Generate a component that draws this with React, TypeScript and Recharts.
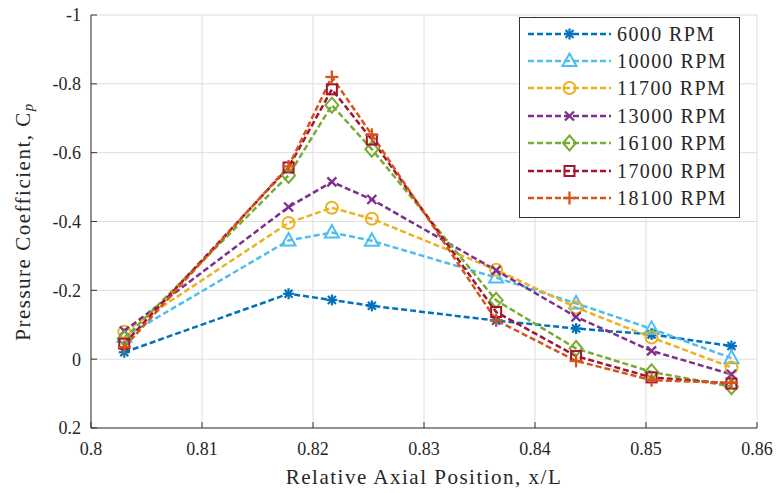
import React from "react"
import { LineChart, Line, XAxis, YAxis, CartesianGrid } from "recharts"

// axial tap positions (x/L)
const xPos = [0.803, 0.8178, 0.8217, 0.8253, 0.8365, 0.8437, 0.8505, 0.8577]

// Cp readings per shaft speed
const rpm6000 = [-0.02, -0.19, -0.172, -0.155, -0.112, -0.089, -0.072, -0.038]
const rpm10000 = [-0.065, -0.345, -0.368, -0.344, -0.237, -0.162, -0.088, -0.003]
const rpm11700 = [-0.08, -0.396, -0.44, -0.408, -0.26, -0.15, -0.063, 0.024]
const rpm13000 = [-0.082, -0.442, -0.515, -0.464, -0.258, -0.123, -0.024, 0.044]
const rpm16100 = [-0.06, -0.534, -0.738, -0.61, -0.171, -0.031, 0.037, 0.08]
const rpm17000 = [-0.045, -0.557, -0.784, -0.638, -0.137, -0.009, 0.053, 0.071]
const rpm18100 = [-0.035, -0.56, -0.82, -0.652, -0.113, 0.005, 0.061, 0.069]

const xTicks = [0.8, 0.81, 0.82, 0.83, 0.84, 0.85, 0.86]
const yTicks = [-1, -0.8, -0.6, -0.4, -0.2, 0, 0.2]

const FONT = "Liberation Serif, DejaVu Serif, serif"
const AXIS = "#333333"

type Shape = "asterisk" | "triangle" | "circle" | "cross" | "diamond" | "square" | "plus"

const series: { key: string; name: string; values: number[]; color: string; marker: Shape }[] = [
  { key: "s6000", name: "6000 RPM", values: rpm6000, color: "#0072BD", marker: "asterisk" },
  { key: "s10000", name: "10000 RPM", values: rpm10000, color: "#4DBEEE", marker: "triangle" },
  { key: "s11700", name: "11700 RPM", values: rpm11700, color: "#EDB120", marker: "circle" },
  { key: "s13000", name: "13000 RPM", values: rpm13000, color: "#7E2F8E", marker: "cross" },
  { key: "s16100", name: "16100 RPM", values: rpm16100, color: "#77AC30", marker: "diamond" },
  { key: "s17000", name: "17000 RPM", values: rpm17000, color: "#A2142F", marker: "square" },
  { key: "s18100", name: "18100 RPM", values: rpm18100, color: "#D95319", marker: "plus" },
]

const data = xPos.map((x, i) => {
  const row: Record<string, number> = { x }
  series.forEach((s) => {
    row[s.key] = s.values[i]
  })
  return row
})

const fmt = (v: number) => String(parseFloat(v.toFixed(2)))

function Marker({ cx, cy, shape, color }: { cx: number; cy: number; shape: Shape; color: string }) {
  const p = { stroke: color, strokeWidth: 2, fill: "none" }
  switch (shape) {
    case "asterisk":
      return (
        <g {...p} strokeWidth={2.2}>
          <line x1={cx - 5.5} y1={cy} x2={cx + 5.5} y2={cy} />
          <line x1={cx} y1={cy - 5.5} x2={cx} y2={cy + 5.5} />
          <line x1={cx - 4} y1={cy - 4} x2={cx + 4} y2={cy + 4} />
          <line x1={cx - 4} y1={cy + 4} x2={cx + 4} y2={cy - 4} />
        </g>
      )
    case "triangle":
      return <polygon {...p} points={`${cx},${cy - 7.5} ${cx - 7},${cy + 5} ${cx + 7},${cy + 5}`} />
    case "circle":
      return <circle {...p} cx={cx} cy={cy} r={6} />
    case "cross":
      return (
        <g {...p} strokeWidth={2.3}>
          <line x1={cx - 4.5} y1={cy - 4.5} x2={cx + 4.5} y2={cy + 4.5} />
          <line x1={cx - 4.5} y1={cy + 4.5} x2={cx + 4.5} y2={cy - 4.5} />
        </g>
      )
    case "diamond":
      return <polygon {...p} points={`${cx},${cy - 7.5} ${cx + 6.5},${cy} ${cx},${cy + 7.5} ${cx - 6.5},${cy}`} />
    case "square":
      return <rect {...p} x={cx - 5} y={cy - 5} width={10} height={10} />
    case "plus":
      return (
        <g {...p} strokeWidth={2.3}>
          <line x1={cx - 6.5} y1={cy} x2={cx + 6.5} y2={cy} />
          <line x1={cx} y1={cy - 6.5} x2={cx} y2={cy + 6.5} />
        </g>
      )
  }
  return null
}

const LegendBox = () => (
  <div
    style={{
      position: "absolute",
      left: 519,
      top: 17,
      width: 221,
      height: 201,
      boxSizing: "border-box",
      border: `1px solid ${AXIS}`,
      background: "#fff",
      paddingTop: 2,
      fontFamily: FONT,
    }}
  >
    {series.map((s) => (
      <div key={s.key} style={{ display: "flex", alignItems: "center", height: 27.4 }}>
        <svg width={92} height={20} style={{ display: "block" }}>
          <line x1={8} y1={10} x2={91} y2={10} stroke={s.color} strokeWidth={2.5} strokeDasharray="6 3" />
          <Marker cx={49.5} cy={10} shape={s.marker} color={s.color} />
        </svg>
        <span style={{ marginLeft: 5, fontSize: 20, letterSpacing: 1.4, color: "#262626", lineHeight: "20px" }}>
          {s.name}
        </span>
      </div>
    ))}
  </div>
)

const YLabel = (props: any) => {
  const vb = props.viewBox || {}
  const cx = 23
  const cy = (vb.y ?? 15) + (vb.height ?? 413) / 2
  return (
    <text
      x={cx}
      y={cy}
      transform={`rotate(-90, ${cx}, ${cy})`}
      textAnchor="middle"
      dominantBaseline="central"
      fill="#262626"
      fontFamily={FONT}
      fontSize={21}
      style={{ letterSpacing: 1.5 }}
    >
      Pressure Coefficient, C
      <tspan fontStyle="italic" fontSize={15} dy={5}>
        p
      </tspan>
    </text>
  )
}

const XLabel = (props: any) => {
  const vb = props.viewBox || {}
  const cx = (vb.x ?? 91) + (vb.width ?? 666) / 2
  const cy = (vb.y ?? 428) + 49
  return (
    <text
      x={cx}
      y={cy}
      textAnchor="middle"
      dominantBaseline="central"
      fill="#262626"
      fontFamily={FONT}
      fontSize={21}
      style={{ letterSpacing: 1.5 }}
    >
      Relative Axial Position, x/L
    </text>
  )
}

export default function App() {
  const tickStyle = { fill: "#262626", fontSize: 18, fontFamily: FONT }
  return (
    <div style={{ position: "absolute", left: 0, top: 0, width: 778, height: 493, background: "#fff" }}>
      <LineChart width={778} height={493} data={data} margin={{ top: 15, right: 21, left: 31, bottom: 25 }}>
        <CartesianGrid stroke="#dedede" strokeWidth={1} />
        <XAxis
          dataKey="x"
          type="number"
          domain={[0.8, 0.86]}
          ticks={xTicks}
          tickFormatter={fmt}
          height={40}
          stroke={AXIS}
          tick={tickStyle}
          tickSize={-6}
          tickMargin={20}
          label={<XLabel />}
          allowDataOverflow
        />
        <XAxis
          xAxisId="top"
          orientation="top"
          type="number"
          domain={[0.8, 0.86]}
          ticks={xTicks}
          height={0}
          stroke={AXIS}
          tick={false}
          tickSize={-6}
          allowDataOverflow
        />
        <YAxis
          type="number"
          domain={[-1, 0.2]}
          reversed
          ticks={yTicks}
          tickFormatter={fmt}
          width={60}
          stroke={AXIS}
          tick={tickStyle}
          tickSize={-6}
          tickMargin={16}
          label={<YLabel />}
          allowDataOverflow
        />
        <YAxis
          yAxisId="right"
          orientation="right"
          type="number"
          domain={[-1, 0.2]}
          reversed
          ticks={yTicks}
          width={0}
          stroke={AXIS}
          tick={false}
          tickSize={-6}
          allowDataOverflow
        />
        {series.map((s) => (
          <Line
            key={s.key}
            dataKey={s.key}
            name={s.name}
            type="linear"
            stroke={s.color}
            strokeWidth={2.5}
            strokeDasharray="6 3"
            isAnimationActive={false}
            dot={(props: any) => (
              <Marker
                key={`${s.key}-${props.index}`}
                cx={props.cx}
                cy={props.cy}
                shape={s.marker}
                color={s.color}
              />
            )}
            activeDot={false}
          />
        ))}
      </LineChart>
      <LegendBox />
    </div>
  )
}
